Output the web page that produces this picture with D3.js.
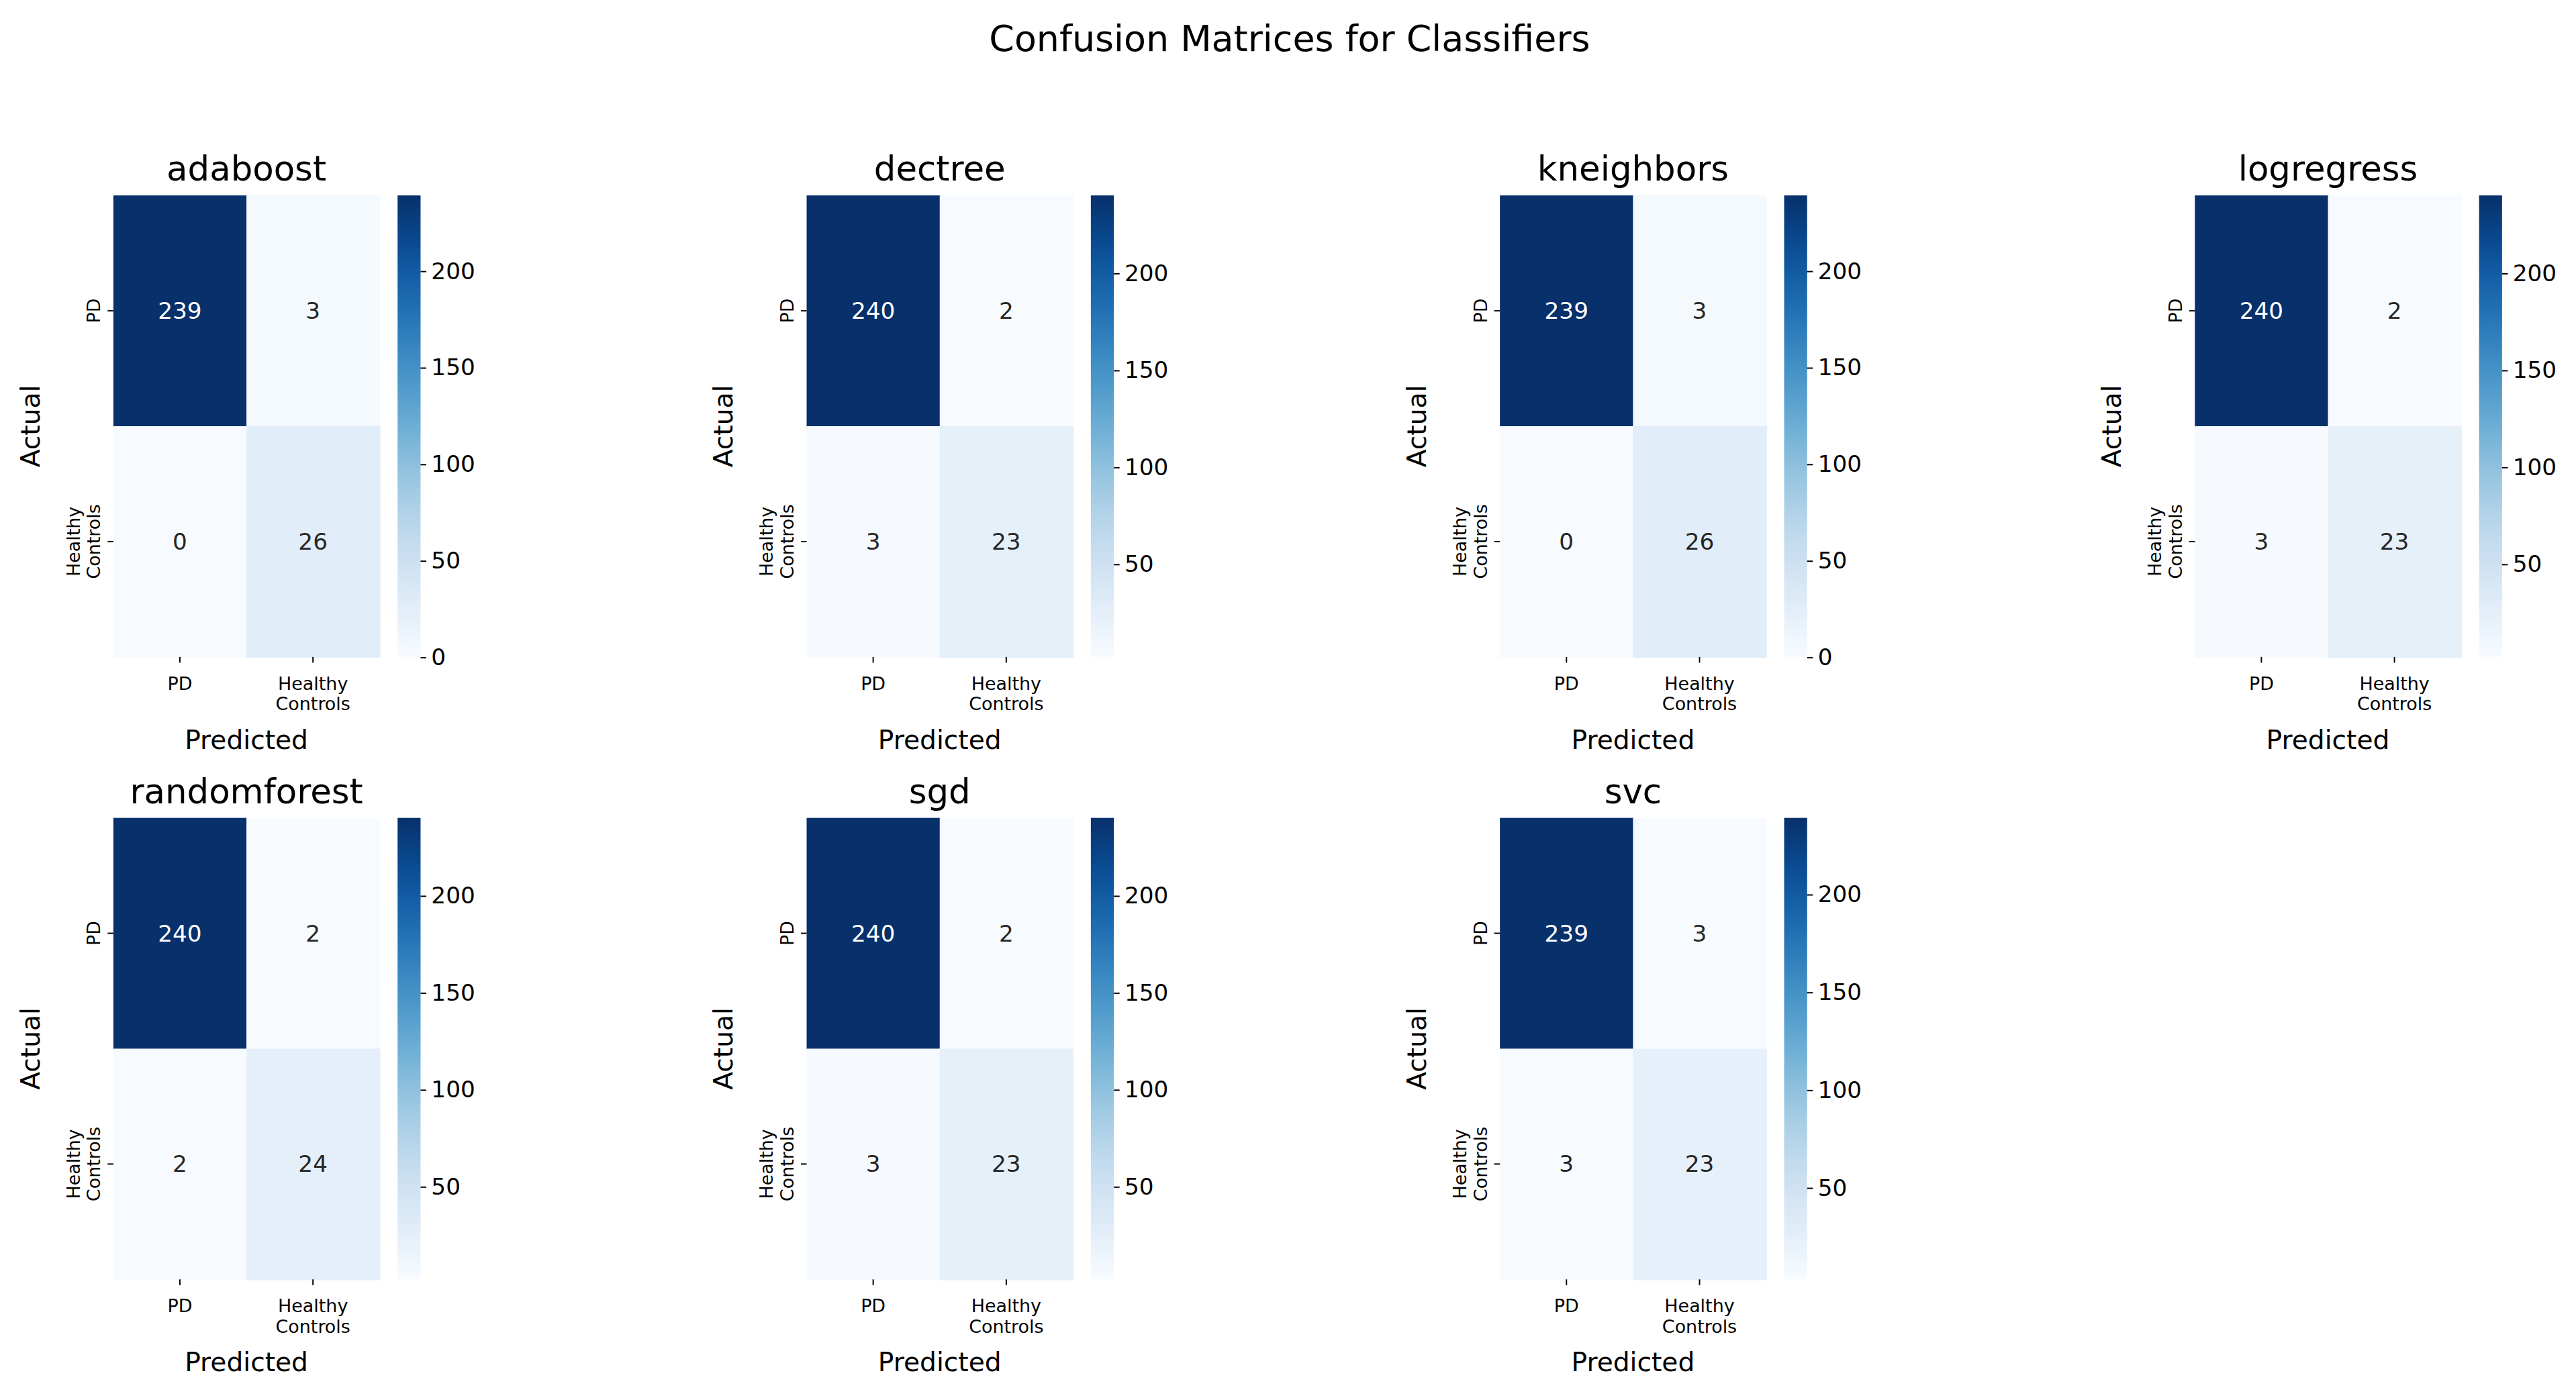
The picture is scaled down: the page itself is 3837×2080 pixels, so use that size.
<!DOCTYPE html>
<html><head><meta charset="utf-8">
<script src="https://cdn.jsdelivr.net/npm/d3@7"></script>
<style>body{margin:0;background:#fff}text{font-family:"DejaVu Sans",sans-serif}</style>
</head><body>
<script>
const classifiers = ["adaboost","dectree","kneighbors","logregress","randomforest","sgd","svc"];
const tpPD  = [239,240,239,240,240,240,239];
const fnPD  = [3,2,3,2,2,2,3];
const fpHC  = [0,3,0,3,2,3,3];
const tnHC  = [26,23,26,23,24,23,23];
const classLabels = [["PD"],["Healthy","Controls"]];
const cbTicks = [0,50,100,150,200];

const W=1568,H=850;
const svg=d3.select("body").append("svg").attr("width",3837).attr("height",2080)
  .attr("viewBox",`0 0 ${W} ${H}`);
svg.append("text").attr("x",785).attr("y",31).attr("text-anchor","middle")
  .attr("font-size",22).text("Confusion Matrices for Classifiers");

const colX=[69,491,913,1336], rowY=[119,498], hw=162, hh=281;
classifiers.forEach((name,i)=>{
  const m=[[tpPD[i],fnPD[i]],[fpHC[i],tnHC[i]]];
  const flat=m.flat(), vmin=d3.min(flat), vmax=d3.max(flat);
  const g=svg.append("g").attr("transform",`translate(${colX[i%4]},${rowY[Math.floor(i/4)]})`);
  const x=d3.scaleBand().domain([0,1]).range([0,hw]);
  const y=d3.scaleBand().domain([0,1]).range([0,hh]);
  const col=d3.scaleSequential(d3.interpolateBlues).domain([vmin,vmax]);
  const cells=[];m.forEach((r,ri)=>r.forEach((v,ci)=>cells.push({ri,ci,v})));
  g.selectAll("rect.c").data(cells).join("rect").attr("x",d=>x(d.ci)).attr("y",d=>y(d.ri))
   .attr("width",x.bandwidth()+0.5).attr("height",y.bandwidth()+0.5).attr("fill",d=>col(d.v));
  g.selectAll("text.v").data(cells).join("text").attr("x",d=>x(d.ci)+x.bandwidth()/2)
   .attr("y",d=>y(d.ri)+y.bandwidth()/2).attr("dy","0.35em").attr("text-anchor","middle")
   .attr("font-size",14).attr("fill",d=>(d.v-vmin)/(vmax-vmin)>0.5?"#fff":"#262626").text(d=>d.v);
  g.append("text").attr("x",hw/2).attr("y",-9).attr("text-anchor","middle").attr("font-size",21).text(name);
  // x ticks
  [0,1].forEach(k=>{
    const cx=x(k)+x.bandwidth()/2;
    g.append("line").attr("x1",cx).attr("x2",cx).attr("y1",hh).attr("y2",hh+3.5).attr("stroke","#000").attr("stroke-width",0.8);
    classLabels[k].forEach((t,j)=>g.append("text").attr("x",cx).attr("y",hh+20+j*12.5)
      .attr("text-anchor","middle").attr("font-size",11).text(t));
    const cy=y(k)+y.bandwidth()/2;
    g.append("line").attr("x1",-3.5).attr("x2",0).attr("y1",cy).attr("y2",cy).attr("stroke","#000").attr("stroke-width",0.8);
    const n=classLabels[k].length;
    classLabels[k].forEach((t,j)=>g.append("text")
      .attr("transform",`translate(${-8-(n-1-j)*12.5},${cy}) rotate(-90)`)
      .attr("text-anchor","middle").attr("font-size",11).text(t));
  });
  g.append("text").attr("x",hw/2).attr("y",hh+56).attr("text-anchor","middle").attr("font-size",16).text("Predicted");
  g.append("text").attr("transform",`translate(${-45},${hh/2}) rotate(-90)`).attr("text-anchor","middle").attr("font-size",16).text("Actual");
  // colorbar
  const cbx=hw+11, cbw=14;
  const cy=d3.scaleLinear().domain([vmin,vmax]).range([hh,0]);
  const gid="grad"+i;
  const grad=svg.append("defs").append("linearGradient").attr("id",gid).attr("x1",0).attr("x2",0).attr("y1",1).attr("y2",0);
  d3.range(0,1.0001,0.05).forEach(t=>grad.append("stop").attr("offset",t).attr("stop-color",d3.interpolateBlues(t)));
  g.append("rect").attr("x",cbx).attr("y",0).attr("width",cbw).attr("height",hh).attr("fill",`url(#${gid})`);
  const ax=g.append("g").attr("transform",`translate(${cbx+cbw},0)`)
    .call(d3.axisRight(cy).tickValues(cbTicks.filter(t=>t>=vmin&&t<=vmax)).tickSize(3.5).tickPadding(3));
  ax.select(".domain").remove();
  ax.selectAll("text").attr("font-size",14).attr("font-family","DejaVu Sans").attr("fill","#000");
  ax.selectAll("line").attr("stroke","#000").attr("stroke-width",0.8);
});
</script>
</body></html>
